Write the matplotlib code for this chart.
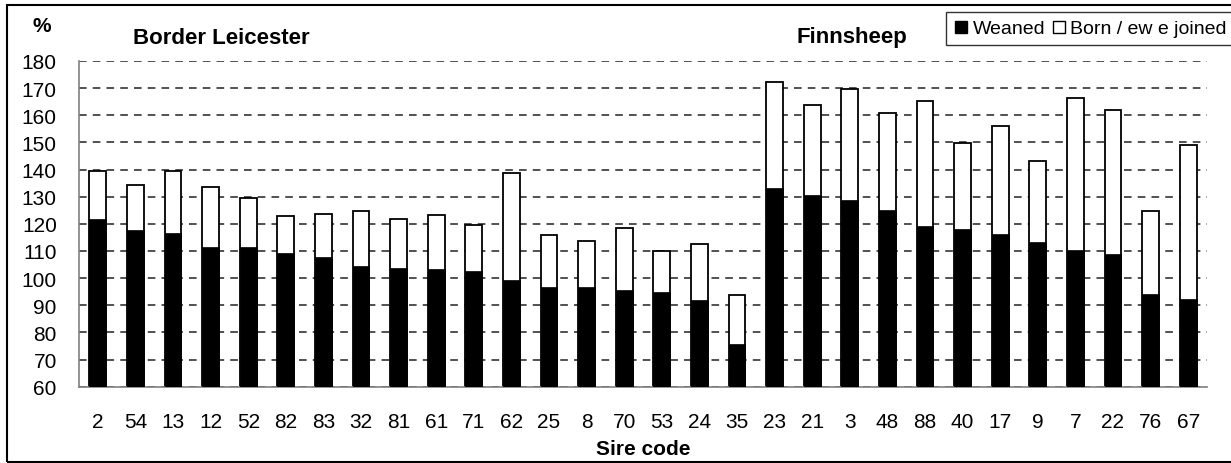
import matplotlib.pyplot as plt
from matplotlib.patches import Rectangle
from matplotlib.lines import Line2D

plt.rcParams['font.family'] = ['Liberation Sans', 'DejaVu Sans']

# Sire codes, Border Leicester first then Finnsheep
sires = ["2", "54", "13", "12", "52", "82", "83", "32", "81", "61", "71", "62",
         "25", "8", "70", "53", "24", "35",
         "23", "21", "3", "48", "88", "40", "17", "9", "7", "22", "76", "67"]
# Lambs born per ewe joined (%)
born = [139.5, 134.4, 139.5, 133.7, 129.4, 122.9, 123.5, 124.8, 121.7, 123.4, 119.6, 138.9,
        115.8, 113.8, 118.4, 110.0, 112.6, 93.9,
        172.3, 163.8, 169.7, 160.7, 165.2, 149.8, 156.2, 143.3, 166.5, 162.1, 124.8, 149.2]
# Lambs weaned (%)
weaned = [121.8, 117.8, 116.6, 111.6, 111.6, 109.1, 107.7, 104.5, 103.8, 103.3, 102.5, 99.3,
          96.8, 96.8, 95.5, 94.9, 91.8, 75.6,
          133.3, 130.6, 128.8, 125.0, 119.1, 118.0, 116.2, 113.4, 110.3, 109.0, 94.2, 92.3]

fig = plt.figure(figsize=(12.31, 4.64), dpi=100)
ax = fig.add_axes([0.0642, 0.1644, 0.9163, 0.702])

x = range(len(sires))
ax.bar(x, born, width=0.45, color="white", edgecolor="black", linewidth=1.3, zorder=2)
ax.bar(x, weaned, width=0.45, color="black", edgecolor="black", linewidth=0.5, zorder=3)

ax.set_ylim(60, 180)
ax.set_xlim(-0.5, len(sires) - 0.5)
ax.set_yticks(range(60, 181, 10))
ax.set_xticks(list(x))
ax.set_xticklabels(sires)
ax.tick_params(axis="both", length=0, labelsize=15)
ax.tick_params(axis="x", pad=18)
ax.tick_params(axis="y", pad=16)
ax.yaxis.grid(True, linestyle=(0, (5, 4)), color="#222222", linewidth=1.1, zorder=1)
ax.set_axisbelow(True)
for side in ["top", "right"]:
    ax.spines[side].set_visible(False)
for side in ["left", "bottom"]:
    ax.spines[side].set_color("#808080")
    ax.spines[side].set_linewidth(1.2)

ax.set_xlabel("Sire code", fontsize=15, fontweight="bold", labelpad=6)

fig.text(42 / 1231, 1 - 27 / 464, "%", fontsize=15, fontweight="bold", ha="center", va="center")
fig.text(133 / 1231, 1 - 38 / 464, "Border Leicester", fontsize=16, fontweight="bold",
         ha="left", va="center")
fig.text(797 / 1231, 1 - 38 / 464, "Finnsheep", fontsize=16, fontweight="bold",
         ha="left", va="center")

handles = [Line2D([], [], marker="s", linestyle="none", markersize=8.5,
                  markerfacecolor="black", markeredgecolor="black"),
           Line2D([], [], marker="s", linestyle="none", markersize=8.5,
                  markerfacecolor="white", markeredgecolor="black")]
leg = fig.legend(handles, ["Weaned", "Born / ew e joined"], ncol=2,
                 loc="upper right", bbox_to_anchor=(1.003, 1 - 13 / 464),
                 fontsize=14, frameon=True, fancybox=False, handlelength=0.7,
                 handletextpad=0.25, columnspacing=0.35, borderpad=0.4, borderaxespad=0)
leg.get_frame().set_edgecolor("black")
leg.get_frame().set_linewidth(1.0)

# outer frame around the whole chart
fig.patches.append(Rectangle((7 / 1231, 1 / 464), 1.2, 1 - 7 / 464, transform=fig.transFigure,
                             fill=False, edgecolor="black", linewidth=1.5, zorder=0))

fig.savefig("out.png", dpi=100)
